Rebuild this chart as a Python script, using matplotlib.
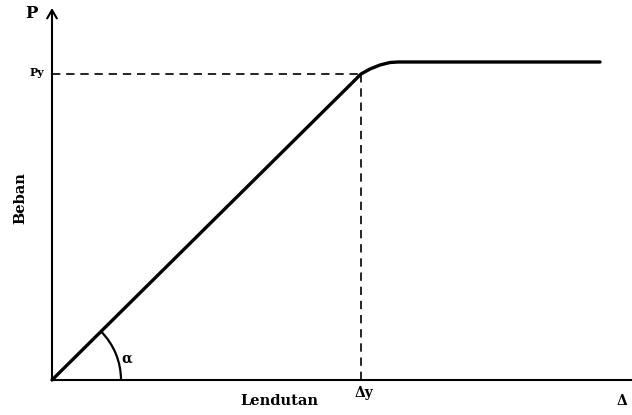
import matplotlib
matplotlib.use("Agg")
import matplotlib.pyplot as plt
from matplotlib.patches import Arc

# Load-deflection curve (data units)
deflection = [0, 300, 309, 318, 328, 338, 346, 548]
load = [0, 297, 306, 311, 315, 317.5, 318, 318]
delta_y = 309   # yield deflection (Δy)
p_y = 306       # yield load (Py)
x_end = 580
y_top = 372

fig = plt.figure(figsize=(6.32, 4.15), dpi=100)
ax = fig.add_axes([0, 0, 1, 1])
ax.set_xlim(-52, 580)
ax.set_ylim(-35, 380)
ax.axis("off")

serif = ["DejaVu Serif", "Liberation Serif"]

# axes lines
ax.plot([0, x_end], [0, 0], color="black", lw=1.5, solid_capstyle="butt")
ax.annotate("", xy=(0, y_top), xytext=(0, 0),
            arrowprops=dict(arrowstyle="->,head_length=0.6,head_width=0.35",
                            color="black", lw=1.5, shrinkA=0, shrinkB=0))

# curve
ax.plot(deflection, load, color="black", lw=2.4, solid_capstyle="round")

# dashed guides
ax.plot([0, delta_y], [p_y, p_y], color="black", lw=1.2, linestyle=(0, (5, 3.5)))
ax.plot([delta_y, delta_y], [0, p_y], color="black", lw=1.2, linestyle=(0, (5, 3.5)))

# angle arc
ax.add_patch(Arc((0, 0), 138, 138, theta1=0, theta2=45, color="black", lw=1.6))
ax.text(75, 21, "α", fontsize=10, fontweight="bold", family=serif,
        ha="center", va="center")

# labels
ax.text(-21, 366, "P", fontsize=12, fontweight="bold", family=serif,
        ha="center", va="center")
ax.text(-15, 307, "Py", fontsize=8, fontweight="bold", family=serif,
        ha="center", va="center")
ax.text(-32, 182, "Beban", fontsize=10.5, fontweight="bold", family=serif,
        ha="center", va="center", rotation=90)
ax.text(227, -21, "Lendutan", fontsize=10.5, fontweight="bold", family=serif,
        ha="center", va="center")
ax.text(delta_y + 3, -13, "Δy", fontsize=10, fontweight="bold", family=serif,
        ha="center", va="center")
ax.text(570, -21, "Δ", fontsize=10, fontweight="bold", family=serif,
        ha="center", va="center")

fig.savefig("out.png", dpi=100)
